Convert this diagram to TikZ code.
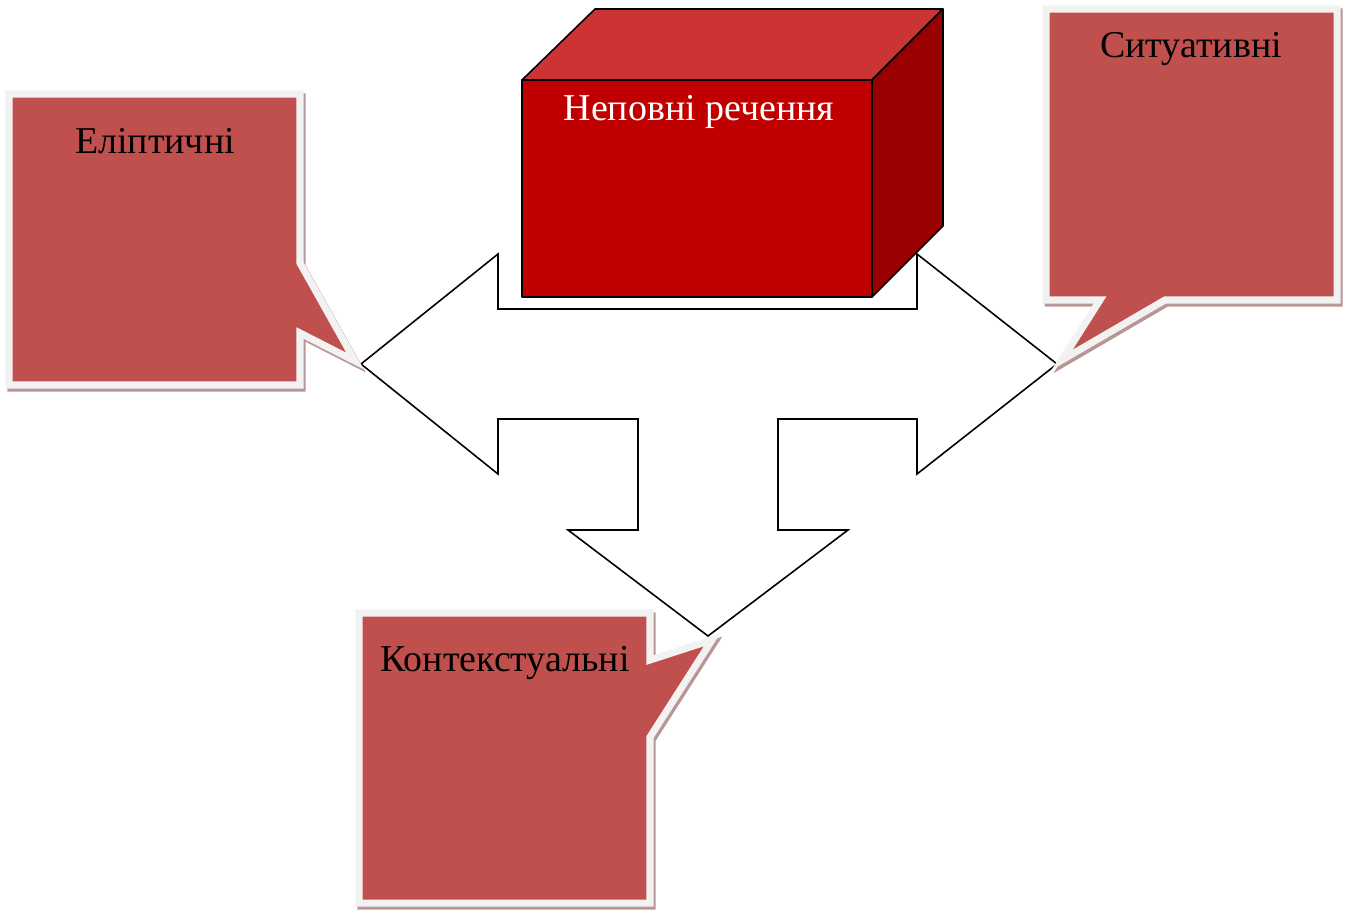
\documentclass[tikz,border=0pt]{standalone}
\usepackage{fontspec}
\setmainfont{Liberation Serif}
\usepackage{tikz}
\usetikzlibrary{positioning}
\definecolor{bubblered}{RGB}{192,80,77}
\definecolor{rimgray}{RGB}{242,242,242}
\definecolor{shadowpink}{RGB}{185,150,150}
\definecolor{frontred}{RGB}{192,0,0}
\definecolor{topred}{RGB}{204,51,51}
\definecolor{sidered}{RGB}{153,0,0}

\begin{document}
\begin{tikzpicture}[x=0.02cm,y=-0.02cm,
    bubble/.style={fill=bubblered,draw=rimgray,line width=4pt},
    shadowbox/.style={fill=shadowpink,draw=shadowpink,line width=4pt,shift={(2,3)}},
    arrowshape/.style={fill=white,draw=black,line width=0.9pt},
    cubeface/.style={draw=black,line width=0.9pt,line join=round},
    boxtext/.style={font=\fontsize{21.6}{26}\selectfont,anchor=base}]
      \useasboundingbox (0,0) rectangle (1348,910);

      \path[arrowshape] (361,364) -- (498,254) -- (498,309) -- (917,309) -- (917,254) -- (1057,364)
        -- (917,474) -- (917,419) -- (778,419) -- (778,530) -- (848,530) -- (708,636)
        -- (568,530) -- (638,530) -- (638,419) -- (498,419) -- (498,474) -- cycle;

      \path[cubeface,fill=frontred] (522,80) rectangle (872,297);
      \path[cubeface,fill=topred] (522,80) -- (595,9) -- (943,9) -- (872,80) -- cycle;
      \path[cubeface,fill=sidered] (872,80) -- (943,9) -- (943,226) -- (872,297) -- cycle;

      \path[shadowbox] (9,94) -- (300,94) -- (300,263) -- (355,361) -- (300,333) -- (300,385) -- (9,385) -- cycle;
      \path[bubble] (9,94) -- (300,94) -- (300,263) -- (355,361) -- (300,333) -- (300,385) -- (9,385) -- cycle;

      \path[shadowbox] (1046,9) -- (1337,9) -- (1337,300) -- (1165,300) -- (1062,360) -- (1100,300) -- (1046,300) -- cycle;
      \path[bubble] (1046,9) -- (1337,9) -- (1337,300) -- (1165,300) -- (1062,360) -- (1100,300) -- (1046,300) -- cycle;

      \path[shadowbox] (359,613) -- (650,613) -- (650,660) -- (712,640) -- (650,737) -- (650,903) -- (359,903) -- cycle;
      \path[bubble] (359,613) -- (650,613) -- (650,660) -- (712,640) -- (650,737) -- (650,903) -- (359,903) -- cycle;

      \node[boxtext,text=white] (title) at (699,120) {Неповні речення};
      \node[boxtext] (elip) at (155,153) {Еліптичні};
      \node[boxtext] (sit) at (1191,57) {Ситуативні};
      \node[boxtext] (kont) at (505,671) {Контекстуальні};
    \end{tikzpicture}
\end{document}
